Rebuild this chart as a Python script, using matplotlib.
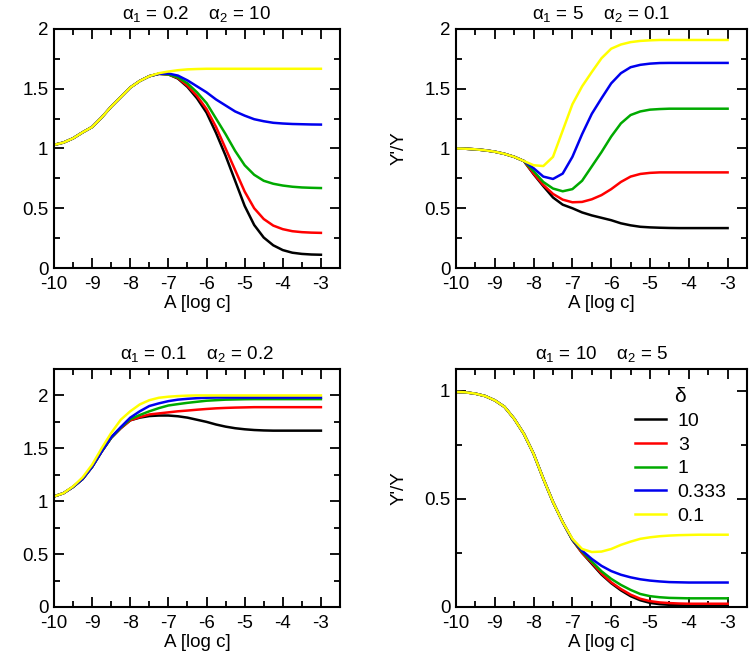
import matplotlib
matplotlib.use("Agg")
import matplotlib.pyplot as plt
import numpy as np
from matplotlib.ticker import MultipleLocator, FuncFormatter

plt.rcParams['font.family'] = ['Liberation Sans', 'DejaVu Sans']
plt.rcParams['mathtext.fontset'] = 'custom'
plt.rcParams['mathtext.rm'] = 'Liberation Sans'
plt.rcParams['mathtext.it'] = 'Liberation Sans'
plt.rcParams['mathtext.bf'] = 'Liberation Sans:bold'
plt.rcParams['axes.unicode_minus'] = False

# log concentration grid, -10 .. -3 in steps of 0.25
log_c = np.linspace(-10, -3, 29)

deltas = ["10", "3", "1", "0.333", "0.1"]
colors = ["#000000", "#ff0000", "#00aa00", "#0000ee", "#ffff00"]

titles = [r"$\alpha_1$ = 0.2    $\alpha_2$ = 10",
          r"$\alpha_1$ = 5    $\alpha_2$ = 0.1",
          r"$\alpha_1$ = 0.1    $\alpha_2$ = 0.2",
          r"$\alpha_1$ = 10    $\alpha_2$ = 5"]

# panel 1: alpha1 = 0.2, alpha2 = 10
p1_d10 = [1.03, 1.05, 1.085, 1.135, 1.18, 1.26, 1.35, 1.43, 1.51, 1.565, 1.605, 1.625, 1.62, 1.585, 1.515,
          1.42, 1.30, 1.13, 0.94, 0.73, 0.52, 0.36, 0.255, 0.19, 0.15, 0.128, 0.118, 0.113, 0.111]
p1_d3 = [1.03, 1.05, 1.085, 1.135, 1.18, 1.26, 1.35, 1.43, 1.51, 1.565, 1.605, 1.625, 1.62, 1.59, 1.525,
         1.44, 1.33, 1.18, 1.0, 0.82, 0.64, 0.50, 0.41, 0.355, 0.325, 0.308, 0.300, 0.296, 0.294]
p1_d1 = [1.03, 1.05, 1.085, 1.135, 1.18, 1.26, 1.35, 1.43, 1.51, 1.565, 1.605, 1.625, 1.62, 1.595, 1.545,
         1.47, 1.38, 1.25, 1.12, 0.98, 0.86, 0.78, 0.73, 0.705, 0.69, 0.68, 0.674, 0.671, 0.669]
p1_d033 = [1.03, 1.05, 1.085, 1.135, 1.18, 1.26, 1.35, 1.43, 1.51, 1.565, 1.605, 1.625, 1.627, 1.61, 1.57,
           1.52, 1.47, 1.41, 1.36, 1.31, 1.275, 1.245, 1.228, 1.215, 1.209, 1.205, 1.203, 1.201, 1.2]
p1_d01 = [1.03, 1.05, 1.085, 1.135, 1.18, 1.26, 1.35, 1.43, 1.51, 1.565, 1.605, 1.63, 1.644, 1.655, 1.662,
          1.665, 1.667, 1.667, 1.667, 1.667, 1.667, 1.667, 1.667, 1.667, 1.667, 1.667, 1.667, 1.667, 1.667]

# panel 2: alpha1 = 5, alpha2 = 0.1
p2_d10 = [1.0, 0.998, 0.993, 0.985, 0.973, 0.955, 0.93, 0.895, 0.785, 0.685, 0.59, 0.53, 0.50, 0.465, 0.44,
          0.42, 0.40, 0.374, 0.357, 0.345, 0.34, 0.337, 0.335, 0.334, 0.334, 0.334, 0.334, 0.334, 0.334]
p2_d3 = [1.0, 0.998, 0.993, 0.985, 0.973, 0.955, 0.93, 0.895, 0.79, 0.695, 0.62, 0.572, 0.55, 0.553, 0.575,
         0.61, 0.66, 0.72, 0.765, 0.787, 0.796, 0.80, 0.80, 0.80, 0.80, 0.80, 0.80, 0.80, 0.80]
p2_d1 = [1.0, 0.998, 0.993, 0.985, 0.973, 0.955, 0.93, 0.895, 0.81, 0.72, 0.665, 0.642, 0.66, 0.73, 0.85,
         0.97, 1.10, 1.21, 1.28, 1.31, 1.325, 1.33, 1.333, 1.333, 1.333, 1.333, 1.333, 1.333, 1.333]
p2_d033 = [1.0, 0.998, 0.993, 0.985, 0.973, 0.955, 0.93, 0.895, 0.835, 0.765, 0.745, 0.79, 0.93, 1.12, 1.29,
           1.42, 1.545, 1.63, 1.68, 1.70, 1.71, 1.715, 1.716, 1.716, 1.716, 1.716, 1.716, 1.716, 1.716]
p2_d01 = [1.0, 0.998, 0.993, 0.985, 0.973, 0.955, 0.93, 0.895, 0.86, 0.853, 0.93, 1.15, 1.37, 1.52, 1.64,
          1.755, 1.835, 1.87, 1.89, 1.90, 1.905, 1.908, 1.908, 1.908, 1.908, 1.908, 1.908, 1.908, 1.908]

# panel 3: alpha1 = 0.1, alpha2 = 0.2
p3_d10 = [1.045, 1.076, 1.135, 1.21, 1.325, 1.47, 1.60, 1.69, 1.765, 1.79, 1.805, 1.81, 1.81, 1.803, 1.79,
          1.77, 1.75, 1.725, 1.705, 1.69, 1.68, 1.673, 1.669, 1.667, 1.667, 1.667, 1.667, 1.667, 1.667]
p3_d3 = [1.045, 1.076, 1.135, 1.21, 1.325, 1.47, 1.60, 1.69, 1.765, 1.795, 1.82, 1.83, 1.84, 1.85, 1.857,
         1.865, 1.872, 1.878, 1.882, 1.885, 1.887, 1.889, 1.889, 1.889, 1.889, 1.889, 1.889, 1.889, 1.889]
p3_d1 = [1.045, 1.076, 1.135, 1.21, 1.325, 1.47, 1.60, 1.695, 1.775, 1.815, 1.85, 1.88, 1.905, 1.918, 1.93,
         1.94, 1.95, 1.955, 1.96, 1.962, 1.964, 1.965, 1.965, 1.965, 1.965, 1.965, 1.965, 1.965, 1.965]
p3_d033 = [1.045, 1.076, 1.135, 1.21, 1.325, 1.47, 1.605, 1.70, 1.79, 1.85, 1.90, 1.925, 1.946, 1.96, 1.968,
           1.974, 1.978, 1.98, 1.98, 1.98, 1.98, 1.98, 1.98, 1.98, 1.98, 1.98, 1.98, 1.98, 1.98]
p3_d01 = [1.045, 1.076, 1.14, 1.225, 1.345, 1.50, 1.645, 1.77, 1.85, 1.915, 1.955, 1.978, 1.988, 1.994, 1.998,
          2.0, 2.0, 2.0, 2.0, 2.0, 2.0, 2.0, 2.0, 2.0, 2.0, 2.0, 2.0, 2.0, 2.0]

# panel 4: alpha1 = 10, alpha2 = 5
p4_d10 = [0.994, 0.992, 0.986, 0.975, 0.955, 0.925, 0.87, 0.80, 0.708, 0.593, 0.485, 0.392, 0.31, 0.25, 0.20,
          0.15, 0.11, 0.077, 0.05, 0.031, 0.019, 0.013, 0.01, 0.008, 0.007, 0.006, 0.006, 0.006, 0.006]
p4_d3 = [0.994, 0.992, 0.986, 0.975, 0.955, 0.925, 0.87, 0.80, 0.708, 0.593, 0.485, 0.392, 0.31, 0.25, 0.205,
         0.155, 0.114, 0.083, 0.057, 0.038, 0.027, 0.021, 0.018, 0.016, 0.015, 0.015, 0.015, 0.015, 0.015]
p4_d1 = [0.994, 0.992, 0.986, 0.975, 0.955, 0.925, 0.87, 0.80, 0.708, 0.593, 0.485, 0.392, 0.31, 0.256, 0.21,
         0.165, 0.13, 0.102, 0.079, 0.06, 0.05, 0.045, 0.042, 0.041, 0.04, 0.04, 0.04, 0.04, 0.04]
p4_d033 = [0.994, 0.992, 0.986, 0.975, 0.955, 0.925, 0.87, 0.80, 0.708, 0.593, 0.485, 0.392, 0.312, 0.26, 0.222,
           0.19, 0.166, 0.149, 0.137, 0.128, 0.122, 0.118, 0.115, 0.114, 0.113, 0.113, 0.113, 0.113, 0.113]
p4_d01 = [0.994, 0.992, 0.986, 0.975, 0.955, 0.925, 0.87, 0.80, 0.708, 0.593, 0.485, 0.392, 0.315, 0.268, 0.254,
          0.256, 0.268, 0.287, 0.302, 0.315, 0.322, 0.327, 0.33, 0.332, 0.333, 0.334, 0.334, 0.334, 0.334]

panels = [
    [p1_d10, p1_d3, p1_d1, p1_d033, p1_d01],
    [p2_d10, p2_d3, p2_d1, p2_d033, p2_d01],
    [p3_d10, p3_d3, p3_d1, p3_d033, p3_d01],
    [p4_d10, p4_d3, p4_d1, p4_d033, p4_d01],
]
ylims = [2.0, 2.0, 2.25, 1.1]

# axes rectangles in figure fraction (left, bottom, width, height)
rects = [
    [0.072, 0.5902, 0.3813, 0.3655],
    [0.608, 0.5902, 0.388, 0.3655],
    [0.072, 0.0719, 0.3813, 0.3639],
    [0.608, 0.0719, 0.388, 0.3639],
]
ylab_x = [-0.175, -0.165, -0.175, -0.165]

fmt = FuncFormatter(lambda v, pos: "%g" % v)

fig = plt.figure(figsize=(7.5, 6.54), dpi=100)

for i in range(4):
    ax = fig.add_axes(rects[i])
    for vals, col, lab in zip(panels[i], colors, deltas):
        ax.plot(log_c, vals, color=col, lw=1.8, label=lab)
    ax.set_xlim(-10, -2.5)
    ax.set_ylim(0, ylims[i])
    ax.xaxis.set_major_locator(MultipleLocator(1))
    ax.xaxis.set_minor_locator(MultipleLocator(0.5))
    ax.yaxis.set_major_locator(MultipleLocator(0.5))
    ax.yaxis.set_minor_locator(MultipleLocator(0.25))
    ax.xaxis.set_major_formatter(fmt)
    ax.yaxis.set_major_formatter(fmt)
    ax.tick_params(which='both', direction='in', top=True, right=True, width=1.3)
    ax.tick_params(which='major', length=7, labelsize=13.5)
    ax.tick_params(axis='x', which='major', pad=6)
    ax.tick_params(axis='y', which='major', pad=4)
    ax.tick_params(which='minor', length=4)
    for s in ax.spines.values():
        s.set_linewidth(1.5)
    ax.set_title(titles[i], fontsize=13.5, pad=7)
    ax.set_xlabel("A [log c]", fontsize=13.5, labelpad=1)
    ax.set_ylabel("Y'/Y", fontsize=13.5)
    ax.yaxis.set_label_coords(ylab_x[i], 0.5)
    if i == 3:
        leg = ax.legend(title=r"$\delta$", frameon=False, loc='upper left',
                        bbox_to_anchor=(0.615, 0.925), borderaxespad=0, borderpad=0,
                        fontsize=14, handlelength=1.6, handletextpad=0.6,
                        labelspacing=0.32)
        leg.get_title().set_fontsize(15)

fig.savefig("out.png", dpi=100)
